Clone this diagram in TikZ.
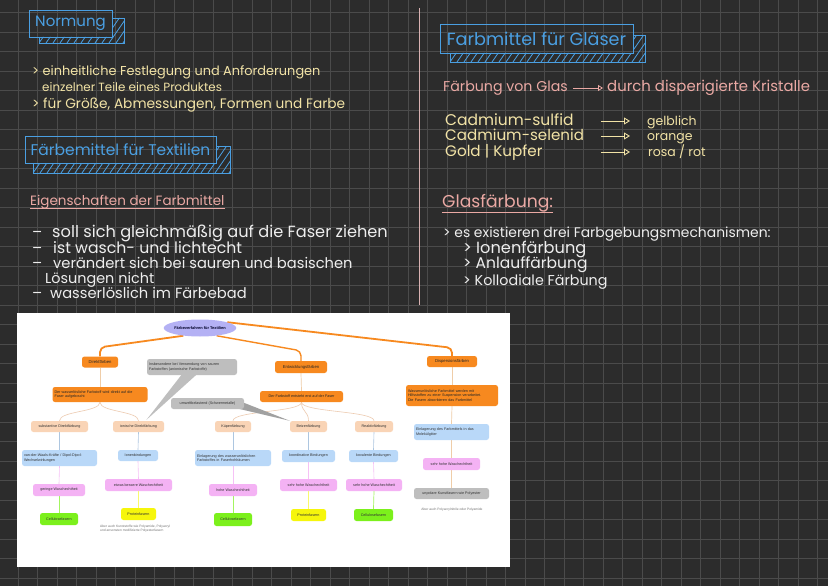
\documentclass[tikz,border=0pt]{standalone}
\usepackage{fontspec}
\setmainfont{Poppins}
\newfontfamily\mmfont{Liberation Sans}
\usetikzlibrary{arrows.meta,shapes.geometric,calc}
\definecolor{bg}{HTML}{2C2C2C}
\definecolor{gridc}{HTML}{4B4B4B}
\definecolor{hblue}{HTML}{4A9FE2}
\definecolor{hyellow}{HTML}{F2E3A6}
\definecolor{hpink}{HTML}{EBA9A4}
\definecolor{hwhite}{HTML}{EEEEEE}
\definecolor{divpink}{HTML}{D9B2B2}
\definecolor{mmorange}{HTML}{F7891F}
\definecolor{mmpeach}{HTML}{F9D4B6}
\definecolor{mmblue}{HTML}{B9D8F8}
\definecolor{mmpink}{HTML}{F4B2F4}
\definecolor{mmgreen}{HTML}{7CF01C}
\definecolor{mmyellow}{HTML}{F6F60C}
\definecolor{mmgray}{HTML}{BEBEBE}
\definecolor{mmroot}{HTML}{B4B1F4}
\definecolor{mmtan}{HTML}{EFCDA8}
\pgfdeclarelayer{bottom}
\pgfdeclarelayer{back}
\pgfsetlayers{bottom,back,main}
\newcommand\hdrshadow[6]{%
  \begin{scope}
    \clip (#3,#2) -- (#1,#2) -- (#1,#4) -- (#5,#4) -- (#5,#6) -- (#3,#6) -- cycle;
    \foreach \k in {-4,...,40} \draw[hblue, line width=0.8pt] ({#3+\k*7},#6) -- ++(18,-26);
  \end{scope}
  \draw[hblue, line width=0.9pt] (#3,#2) -- (#3,#6) -- (#5,#6) -- (#5,#4) -- (#1,#4);
}
\newcommand\fsz[1]{\fontsize{#1}{#1}\selectfont}
\tikzset{
  hdrbox/.style={draw=hblue, line width=0.9pt, text=hblue, inner sep=0pt},
  hw/.style={anchor=base west, inner sep=0pt},
  hwy/.style={hw, text=hyellow},
  hww/.style={hw, text=hwhite},
  hwp/.style={hw, text=hpink},
  yarrow/.style={hyellow, line width=0.9pt, -{Triangle[open, length=6pt, width=7pt]}},
  mm/.style={rounded corners=2.5pt, font=\mmfont\fontsize{3.7}{4.4}\selectfont, inner sep=1pt, text=black!80, align=center},
  mmor/.style={mm, fill=mmorange, text=black!85},
  mmpe/.style={mm, fill=mmpeach},
  mmbl/.style={mm, fill=mmblue},
  mmpi/.style={mm, fill=mmpink},
  mmgr/.style={mm, fill=mmgreen},
  mmye/.style={mm, fill=mmyellow},
  mmgy/.style={mm, fill=mmgray},
  branch/.style={mmorange, line width=1.8pt, rounded corners=5pt},
  tanline/.style={mmtan, line width=0.7pt},
  peline/.style={mmpeach!90!gray, line width=0.6pt},
  blline/.style={mmblue!80!gray, line width=0.6pt},
  piline/.style={mmpink!80!white, line width=0.6pt},
  grline/.style={mmgreen!70!white, line width=0.7pt},
  yeline/.style={mmyellow!60!white, line width=0.7pt},
  note/.style={font=\mmfont\fontsize{3.3}{4}\selectfont, text=black!55, align=left, inner sep=0pt}
}
\begin{document}
\begin{tikzpicture}[x=1pt,y=-1pt]
\useasboundingbox (0,0) rectangle (828,586);
\begin{pgfonlayer}{bottom}
  \fill[bg] (0,0) rectangle (828,586);
  \begin{scope}
    \clip (0,0) rectangle (828,586);
    \foreach \i in {0,...,43} \draw[gridc, line width=0.7pt] ({-1.5+\i*19.5},0) -- ({-1.5+\i*19.5},586);
    \foreach \j in {0,...,30} \draw[gridc, line width=0.7pt] (0,{-7+\j*19.5}) -- (828,{-7+\j*19.5});
  \end{scope}
  \fill[white] (17,313) rectangle (510,567);
\end{pgfonlayer}

% divider
\draw[divpink, line width=1pt] (419,8) -- (419,305);

% ---------- Normung ----------
\hdrshadow{112}{37}{39}{18}{124}{43}
\node[hdrbox, minimum width=83pt, minimum height=27pt, font=\fsz{15}] (hnorm) at (70.5,23.5) {Normung};
\node[hwy, font=\fsz{12.9}] (n1) at (32,76) {> einheitliche Festlegung und Anforderungen};
\node[hwy, font=\fsz{11.9}] (n2) at (42,92) {einzelner Teile eines Produktes};
\node[hwy, font=\fsz{13.7}] (n3) at (32,108) {> für Größe, Abmessungen, Formen und Farbe};

% ---------- Färbemittel für Textilien ----------
\hdrshadow{216}{163}{33}{146}{230}{173}
\node[hdrbox, minimum width=191pt, minimum height=27pt, font=\fsz{15.5}] (htex) at (120.5,149.5) {Färbemittel für Textilien};
\node[hwp, font=\fsz{13.5}] (eig) at (30,205) {Eigenschaften der Farbmittel};
\draw[hpink, line width=0.8pt] ([yshift=-3pt]eig.base west) -- ([yshift=-3pt]eig.base east);
\node[hww, font=\fsz{15}] (d1) at (32,237) {–};
\node[hww, font=\fsz{16.2}] (t1) at (52,237) {soll sich gleichmäßig auf die Faser ziehen};
\node[hww, font=\fsz{15}] (d2) at (32,253) {–};
\node[hww, font=\fsz{15.7}] (t2) at (53,253) {ist wasch- und lichtecht};
\node[hww, font=\fsz{15}] (d3) at (32,268) {–};
\node[hww, font=\fsz{14.7}] (t3) at (53,268) {verändert sich bei sauren und basischen};
\node[hww, font=\fsz{14.4}] (t3b) at (45,283) {Lösungen nicht};
\node[hww, font=\fsz{15}] (d4) at (32,298) {–};
\node[hww, font=\fsz{14.7}] (t4) at (50,298) {wasserlöslich im Färbebad};

% ---------- Farbmittel für Gläser ----------
\hdrshadow{633}{53}{450}{35}{645}{62}
\node[hdrbox, minimum width=193pt, minimum height=29pt, font=\fsz{17.6}] (hgl) at (536.5,38.5) {Farbmittel für Gläser};
\node[hwp, font=\fsz{14.2}] (fg1) at (443,92) {Färbung von Glas};
\node[hwp, font=\fsz{14.9}] (fg2) at (607,92) {durch disperigierte Kristalle};
\draw[hpink, line width=0.8pt, -{Triangle[open, length=5pt, width=6pt]}] ([xshift=5pt,yshift=4pt]fg1.base east) -- ([xshift=-4pt,yshift=4pt]fg2.base west);
\node[hwy, font=\fsz{15.5}] (c1) at (445,125) {Cadmium-sulfid};
\node[hwy, font=\fsz{15.1}] (c2) at (445,140) {Cadmium-selenid};
\node[hwy, font=\fsz{15.2}] (c3) at (445,156) {Gold | Kupfer};
\node[hwy, font=\fsz{12.5}] (v1) at (647,125) {gelblich};
\node[hwy, font=\fsz{12.5}] (v2) at (647,140) {orange};
\node[hwy, font=\fsz{12.5}] (v3) at (648,156) {rosa / rot};
\coordinate (a1) at (601,121); \coordinate (b1) at (630,121);
\coordinate (a2) at (601,136); \coordinate (b2) at (630,136);
\coordinate (a3) at (601,152); \coordinate (b3) at (630,152);
\draw[yarrow] (a1) -- (b1);
\draw[yarrow] (a2) -- (b2);
\draw[yarrow] (a3) -- (b3);
\node[hwp, font=\fsz{17.2}] (gf) at (442,207) {Glasfärbung:};
\draw[hpink, line width=0.8pt] ([yshift=-5pt]gf.base west) -- ([yshift=-5pt]gf.base east);
\node[hww, font=\fsz{13.9}] (g1) at (443,237) {> es existieren drei Farbgebungsmechanismen:};
\node[hww, font=\fsz{16.2}] (g2) at (463,253) {> Ionenfärbung};
\node[hww, font=\fsz{15.5}] (g3) at (463,268) {> Anlauffärbung};
\node[hww, font=\fsz{14.3}] (g4) at (463,285) {> Kollodiale Färbung};

% ---------- Mindmap ----------
\node[ellipse, fill=mmroot, minimum width=72pt, minimum height=17pt, inner sep=0pt, text=black!85!blue, font=\mmfont\bfseries\fontsize{3.9}{4.5}\selectfont] (root) at (200,328) {Färbeverfahren für Textilien};
\node[mmor, minimum width=36pt, minimum height=11pt, font=\mmfont\fontsize{4.2}{5}\selectfont] (dir) at (100,362) {Direktfärben};
\node[mmor, minimum width=95pt, minimum height=15pt, align=left, text width=91pt] (dirdesc) at (100,394.5) {Der wasserlösliche Farbstoff wird direkt auf die\\Faser aufgebracht};
\node[mmor, minimum width=52pt, minimum height=12pt, font=\mmfont\fontsize{4.2}{5}\selectfont] (ent) at (301,367) {Entwicklungsfärben};
\node[mmor, minimum width=83pt, minimum height=11pt] (entdesc) at (301.5,396.5) {Der Farbstoff entsteht erst auf der Faser};
\node[mmor, minimum width=50pt, minimum height=11pt, font=\mmfont\fontsize{4.2}{5}\selectfont] (disp) at (452,361.5) {Dispersionsfärben};
\node[mmor, minimum width=92pt, minimum height=21pt, align=left, text width=88pt] (dispdesc) at (452,395.5) {Wasserunlösliche Farbmittel werden mit\\Hilfsstoffen zu einer Suspension verarbeitet.\\Die Fasern absorbieren das Farbmittel};
\node[mmgy, minimum width=90pt, minimum height=16pt, align=left, text width=86pt] (call1) at (192,367) {Insbesondere bei Verwendung von sauren\\Farbstoffen (anionische Farbstoffe)};
\node[mmgy, minimum width=73pt, minimum height=11pt] (umw) at (207.5,403.5) {umweltbelastend (Schwermetalle)};

\node[mmpe, minimum width=57pt, minimum height=11pt] (subst) at (59.5,426.5) {substantive Direktfärbung};
\node[mmpe, minimum width=51pt, minimum height=11pt] (ion) at (138.5,426.5) {ionische Direktfärbung};
\node[mmpe, minimum width=36pt, minimum height=11pt] (kuep) at (233,426.5) {Küpenfärbung};
\node[mmpe, minimum width=37pt, minimum height=11pt] (beiz) at (308.5,426.5) {Beizenfärbung};
\node[mmpe, minimum width=38pt, minimum height=11pt] (reak) at (374,426.5) {Reaktivfärbung};

\node[mmbl, minimum width=75pt, minimum height=16pt, align=left, text width=71pt] (vdw) at (59.5,458) {van-der-Waals-Kräfte / Dipol-Dipol-\\Wechselwirkungen};
\node[mmbl, minimum width=40pt, minimum height=11pt] (ionb) at (138,455.5) {Ionenbindungen};
\node[mmbl, minimum width=76pt, minimum height=16pt, align=left, text width=72pt] (einl1) at (233,458) {Einlagerung des wasserunlöslichen\\Farbstoffes in Faserhohlräumen};
\node[mmbl, minimum width=53pt, minimum height=12pt] (koord) at (308.5,456) {koordinative Bindungen};
\node[mmbl, minimum width=49pt, minimum height=12pt] (kov) at (373.5,456) {kovalente Bindungen};
\node[mmbl, minimum width=75pt, minimum height=16pt, align=left, text width=71pt] (einl2) at (451.5,432) {Einlagerung des Farbmittels in das\\Molekülgitter};

\node[mmpi, minimum width=52pt, minimum height=12pt] (ger) at (59,490) {geringe Waschechtheit};
\node[mmpi, minimum width=67pt, minimum height=12pt] (etw) at (138.5,485) {etwas bessere Waschechtheit};
\node[mmpi, minimum width=48pt, minimum height=12pt] (hoh) at (233,490) {hohe Waschechtheit};
\node[mmpi, minimum width=57pt, minimum height=12pt] (sh1) at (308.5,485) {sehr hohe Waschechtheit};
\node[mmpi, minimum width=56pt, minimum height=12pt] (sh2) at (374,485) {sehr hohe Waschechtheit};
\node[mmpi, minimum width=57pt, minimum height=12pt] (sh3) at (451.5,464) {sehr hohe Waschechtheit};

\node[mmgr, minimum width=38pt, minimum height=12pt] (cel1) at (59,519) {Cellulosefasern};
\node[mmye, minimum width=35pt, minimum height=12pt] (prot1) at (138.5,514) {Proteinfasern};
\node[mmgr, minimum width=38pt, minimum height=13pt] (cel2) at (233,519.5) {Cellulosefasern};
\node[mmye, minimum width=35pt, minimum height=12pt] (prot2) at (308.5,515) {Proteinfasern};
\node[mmgr, minimum width=39pt, minimum height=12pt] (cel3) at (373.5,515) {Cellulosefasern};
\node[mmgy, minimum width=75pt, minimum height=11pt] (unp) at (451.5,493.5) {unpolare Kunstfasern wie Polyester};

\node[note, anchor=north west] (note1) at (100,524.5) {Aber auch Kunststoffe wie Polyamide, Polyacryl\\und ansonsten modifizierte Polyesterfasern};
\node[note] (note2) at (452,510) {Aber auch Polyacrylnitrile oder Polyamide};

\begin{pgfonlayer}{back}
  % main branches
  \draw[branch] (root.205) -- ([yshift=9pt]dir.north) -- (dir.north);
  \draw[branch, line width=1.4pt] (root.335) -- ([yshift=10pt]ent.north) -- (ent.north);
  \draw[branch] (root.12) -- ([yshift=8pt]disp.north) -- (disp.north);
  % secondary
  \draw[tanline] (dir.south) -- (dirdesc.north);
  \draw[tanline] (ent.south) -- (entdesc.north);
  \draw[tanline] (disp.south) -- (dispdesc.north);
  \draw[tanline] (dispdesc.south) -- (einl2.north);
  \draw[tanline] (einl2.south) -- (sh3.north);
  \draw[tanline] (sh3.south) -- (unp.north);
  % children
  \draw[peline] (dirdesc.south) .. controls +(0,10) and +(0,-10) .. (subst.north);
  \draw[peline] (dirdesc.south) .. controls +(0,10) and +(0,-10) .. (ion.north);
  \draw[peline] (entdesc.south) .. controls +(0,10) and +(0,-10) .. (kuep.north);
  \draw[peline] (entdesc.south) .. controls +(0,10) and +(0,-10) .. (beiz.north);
  \draw[peline] (entdesc.south) .. controls +(0,10) and +(0,-10) .. (reak.north);
  % columns
  \foreach \a/\b in {subst/vdw, ion/ionb, kuep/einl1, beiz/koord, reak/kov} \draw[blline] (\a.south) -- (\b.north);
  \foreach \a/\b in {vdw/ger, ionb/etw, einl1/hoh, koord/sh1, kov/sh2} \draw[piline] (\a.south) -- (\b.north);
  \foreach \a/\b in {ger/cel1, hoh/cel2, sh2/cel3} \draw[grline] (\a.south) -- (\b.north);
  \draw[yeline] (etw.south) -- (prot1.north);
  \draw[yeline] (sh1.south) -- (prot2.north);
  % callout pointers
  \fill[mmgray] ([xshift=-10pt,yshift=1pt]call1.south) -- ([xshift=8pt,yshift=1pt]ion.north) -- ([xshift=5pt,yshift=1pt]call1.south) -- cycle;
  \fill[mmgray!85!black] ([xshift=-8pt,yshift=1pt]umw.south east) -- ([xshift=-1pt,yshift=1pt]umw.east) -- (beiz.north west) -- cycle;
\end{pgfonlayer}
\end{tikzpicture}
\end{document}
